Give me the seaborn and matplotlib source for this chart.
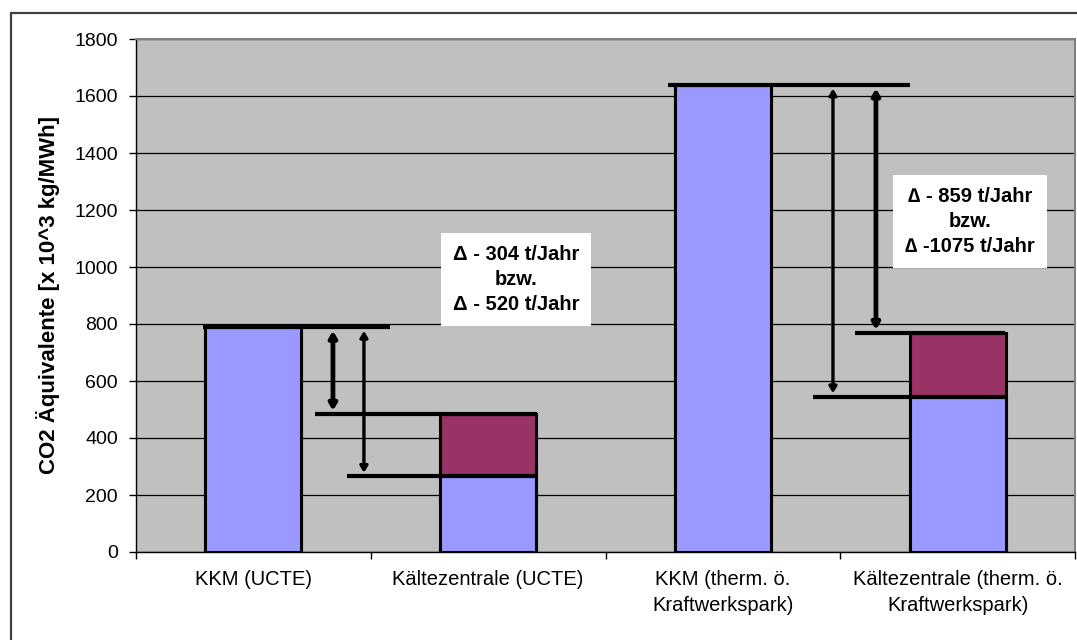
import matplotlib
matplotlib.use("Agg")
import matplotlib.pyplot as plt
from matplotlib.lines import Line2D
from matplotlib.ticker import MultipleLocator, FixedLocator
import numpy as np
import pandas as pd
import seaborn as sns

# --- data -------------------------------------------------------------
categories = [
    "KKM (UCTE)",
    "Kältezentrale (UCTE)",
    "KKM (therm. ö.\nKraftwerkspark)",
    "Kältezentrale (therm. ö.\nKraftwerkspark)",
]
base_values = [788, 266, 1638, 545]      # blue segment
extra_values = [0, 218, 0, 223]          # maroon segment stacked on top

delta_texts = [
    "Δ - 304 t/Jahr\nbzw.\nΔ - 520 t/Jahr",
    "∆ - 859 t/Jahr\nbzw.\n∆ -1075 t/Jahr",
]

y_ticks = list(range(0, 1801, 200))
y_label = "CO2 Äquivalente [x 10^3 kg/MWh]"

# --- styling ----------------------------------------------------------
BLUE = "#9999FF"
MAROON = "#993366"
PLOT_BG = "#C0C0C0"

sns.set_theme(style="white")
plt.rcParams["font.family"] = ["Liberation Sans", "DejaVu Sans"]
plt.rcParams["text.color"] = "black"
plt.rcParams["axes.labelcolor"] = "black"
plt.rcParams["xtick.color"] = "black"
plt.rcParams["ytick.color"] = "black"

df = pd.DataFrame({
    "cat": categories,
    "base": base_values,
    "total": np.add(base_values, extra_values),
})

fig = plt.figure(figsize=(10.77, 6.40), dpi=100)
ax = fig.add_axes([136 / 1077, 88 / 640, (1075 - 136) / 1077, (552 - 39) / 640])
ax.set_facecolor(PLOT_BG)

# stacked columns: full height in maroon, blue base drawn over it
sns.barplot(data=df, x="cat", y="total", color=MAROON, saturation=1,
            width=0.41, edgecolor="black", linewidth=2.2, ax=ax, zorder=3)
sns.barplot(data=df, x="cat", y="base", color=BLUE, saturation=1,
            width=0.41, edgecolor="black", linewidth=2.2, ax=ax, zorder=3)

ax.set_xlim(-0.5, 3.5)
ax.set_ylim(0, 1800)
ax.yaxis.set_major_locator(FixedLocator(y_ticks))
ax.grid(axis="y", color="black", linewidth=0.9, zorder=0)
ax.set_axisbelow(True)

# axes frame
for side in ("left", "bottom"):
    ax.spines[side].set_color("black")
    ax.spines[side].set_linewidth(1.0)
for side in ("top", "right"):
    ax.spines[side].set_color("#808080")
    ax.spines[side].set_linewidth(1.5)

ax.tick_params(axis="y", which="major", direction="out", length=5, width=1,
               color="black", pad=8, labelsize=14, left=True)
ax.set_yticklabels([str(v) for v in y_ticks])
ax.tick_params(axis="x", which="major", length=0, pad=13, labelsize=14.5)
ax.xaxis.set_minor_locator(MultipleLocator(1, offset=0.5))
ax.tick_params(axis="x", which="minor", direction="out", length=5, width=1,
               color="black", bottom=True)
for lab in ax.get_xticklabels():
    lab.set_linespacing(1.45)

ax.set_xlabel("")
ax.set_ylabel(y_label, fontsize=16, fontweight="bold", labelpad=10)

# --- difference markers ------------------------------------------------
tops = df["total"].to_numpy()
bases = df["base"].to_numpy()

def hline(y, x0, x1):
    ax.plot([x0, x1], [y, y], color="black", linewidth=3.0,
            solid_capstyle="butt", zorder=5)

def double_arrow(x, y0, y1, lw):
    ax.annotate("", xy=(x, y1), xytext=(x, y0),
                arrowprops=dict(arrowstyle="<|-|>,head_length=0.3,head_width=0.18",
                                color="black", linewidth=lw,
                                shrinkA=0, shrinkB=0),
                zorder=6)

# UCTE pair
hline(tops[0], -0.215, 0.582)
hline(tops[1], 0.262, 1.208)
hline(bases[1], 0.399, 1.208)
double_arrow(0.339, tops[0] - 12, tops[1] + 12, 3.4)
double_arrow(0.471, tops[0] - 12, bases[1] + 12, 2.4)

# thermal park pair
hline(tops[2], 1.766, 2.797)
hline(tops[3], 2.563, 3.202)
hline(bases[3], 2.384, 3.215)
double_arrow(2.469, tops[2] - 12, bases[3] + 12, 2.4)
double_arrow(2.652, tops[2] - 12, tops[3] + 12, 3.4)

box = dict(facecolor="white", edgecolor="none", boxstyle="square,pad=0.6")
ax.text(1.119, 955, delta_texts[0], ha="center", va="center",
        fontsize=14.5, fontweight="bold", linespacing=1.4, bbox=box, zorder=7)
ax.text(3.053, 1160, delta_texts[1], ha="center", va="center",
        fontsize=14.5, fontweight="bold", linespacing=1.4, bbox=box, zorder=7)

# outer chart frame
fig.add_artist(Line2D([11 / 1077, 11 / 1077], [0, 1 - 13 / 640],
                      transform=fig.transFigure, color="#404040", linewidth=1.6))
fig.add_artist(Line2D([11 / 1077, 1], [1 - 13 / 640, 1 - 13 / 640],
                      transform=fig.transFigure, color="#404040", linewidth=1.6))

fig.savefig("out.png", dpi=100, facecolor="white")
